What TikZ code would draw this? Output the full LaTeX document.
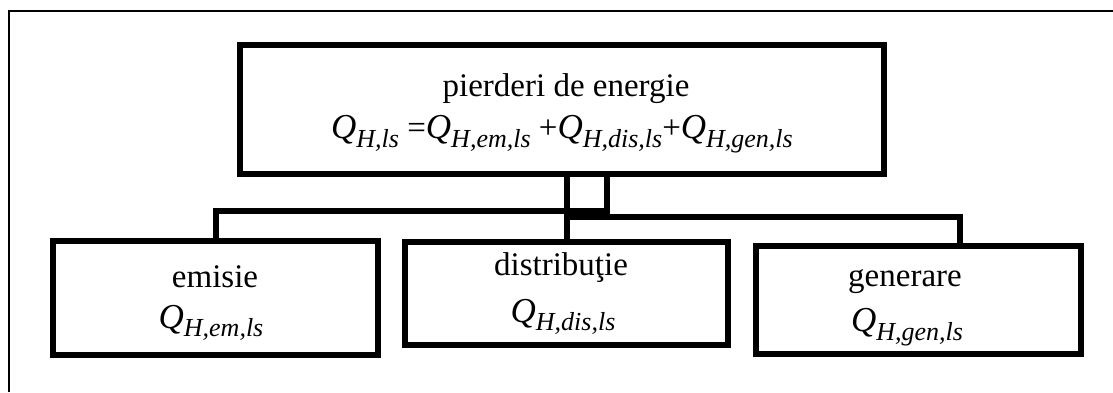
\documentclass[tikz,border=0pt]{standalone}
\usepackage{fontspec}
\setmainfont{Liberation Serif}
\newcommand\QQ[1]{{\itshape\fontsize{35}{35}\selectfont Q\raisebox{-0.25em}{\fontsize{26}{26}\selectfont #1}}}
\begin{document}
\begin{tikzpicture}[x=1pt,y=-1pt,
  box/.style={draw,line width=6pt,line join=miter,inner sep=0pt,rectangle},
  conn/.style={line width=6pt,line join=miter},
  lbl/.style={inner sep=0pt,font=\fontsize{33}{35}\selectfont},
  frame/.style={line width=2pt}]
\useasboundingbox (0,0) rectangle (1113,392);
% outer frame
\coordinate (fa) at (9,392);
\coordinate (fb) at (9,11);
\coordinate (fc) at (1113,11);
\draw[frame] (fa) -- (fb) -- (fc);
% boxes
\node[box,minimum width=644pt,minimum height=129pt] (top) at (562,109.5) {};
\node[box,minimum width=325pt,minimum height=114pt] (emi) at (215.5,298) {};
\node[box,minimum width=323pt,minimum height=103pt] (dis) at (566.5,293.5) {};
\node[box,minimum width=325pt,minimum height=108pt] (gen) at (918.5,300) {};
% texts
\node[lbl] (t1) at (566,89) {pierderi de energie};
\node[lbl] (t2) at (562,134) {\QQ{H,ls} =\QQ{H,em,ls} +\QQ{H,dis,ls}+\QQ{H,gen,ls}};
\node[lbl] (e1) at (215,277) {emisie};
\node[lbl] (e2) at (211,323) {\QQ{H,em,ls}};
\node[lbl] (d1) at (561,268) {distribuţie};
\node[lbl] (d2) at (563,317) {\QQ{H,dis,ls}};
\node[lbl] (g1) at (905,282) {generare};
\node[lbl] (g2) at (907,327) {\QQ{H,gen,ls}};
% connectors
\coordinate (j1) at (607,210.5);
\coordinate (j2) at (215.5,210.5);
\coordinate (k1) at (566.5,217);
\coordinate (k2) at (959.5,217);
\draw[conn] (top.south -| dis.north) -- (dis.north);
\draw[conn] (top.south -| j1) -- (j1) -- (j2) -- (emi.north);
\draw[conn] (k1) -- (k2) -- (gen.north -| k2);
\end{tikzpicture}
\end{document}
